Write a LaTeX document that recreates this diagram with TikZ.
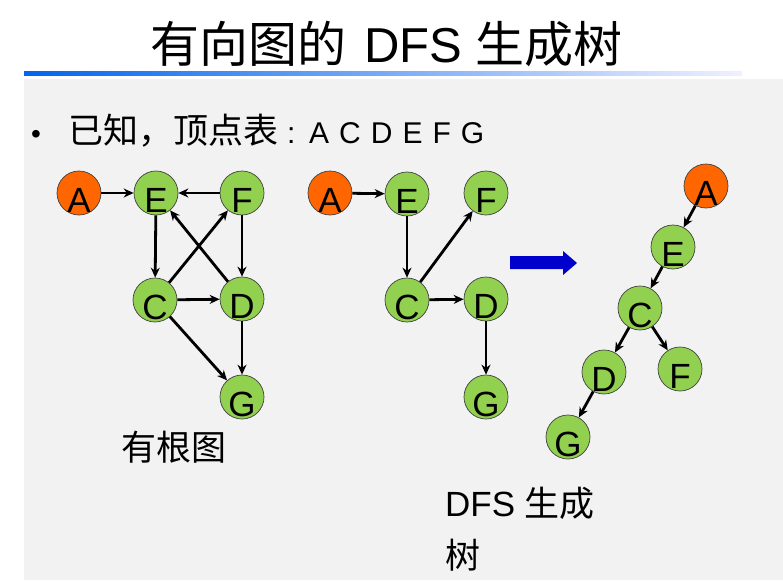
\documentclass[tikz,border=0pt]{standalone}
\usepackage{fontspec}
\setmainfont{Liberation Sans}
\newfontfamily\cjk{Noto Sans CJK SC}
\usetikzlibrary{arrows.meta}
\definecolor{panel}{HTML}{F2F2F2}
\definecolor{vgreen}{HTML}{92D050}
\definecolor{vorange}{HTML}{FF6600}
\definecolor{barblue}{HTML}{0066EE}
\definecolor{barend}{HTML}{F0F0FF}
\definecolor{bigarrow}{HTML}{0000CC}
\begin{document}
\begin{tikzpicture}[x=1pt,y=-1pt,
  vtx/.style={circle,draw=black!75,line width=0.7pt,minimum size=44pt,inner sep=0pt,fill=vgreen},
  root/.style={vtx,fill=vorange},
  lbl/.style={yshift=-7pt,font=\fontsize{35}{35}\selectfont,inner sep=0pt},
  arr/.style={-{Stealth[length=10pt,width=9pt]},line width=2.8pt,black},
  txt/.style={inner sep=0pt}]
\useasboundingbox (0,0) rectangle (783,583);
\fill[white] (0,0) rectangle (783,583);
\fill[panel] (24,79) rectangle (783,580);
\shade[left color=barblue,right color=barend] (24,72) rectangle (742,76);
% title
\node[txt] (title) at (386,44) {\fontsize{49}{49}\selectfont\cjk 有向图的\hspace{18pt}\fontspec{Liberation Sans}DFS\hspace{13pt}\cjk 生成树};
% bullet line
\node[txt,anchor=base west] (bul) at (31,143) {\fontsize{28}{28}\selectfont •};
\node[txt,anchor=base west] (known) at (68,143) {\fontsize{35}{35}\selectfont\cjk 已知，顶点表};
\node[txt,anchor=base west] (colon) at (287,143) {\fontsize{30}{30}\selectfont :};
\node[txt,anchor=base west] (list) at (309,143) {\fontsize{30}{30}\selectfont A\hspace{10pt}C\hspace{10pt}D\hspace{10pt}E\hspace{10pt}F\hspace{10pt}G};
% left graph
\node[root] (a1) at (79,193) {};
\node[vtx] (e1) at (156,193) {};
\node[vtx] (f1) at (242,193) {};
\node[vtx] (c1) at (155,300) {};
\node[vtx] (d1) at (242,299) {};
\node[vtx] (g1) at (242,397) {};
\draw[arr] (a1) -- (e1);
\draw[arr] (f1) -- (e1);
\draw[arr] (e1) -- (c1);
\draw[arr] (c1) -- (f1);
\draw[arr] (d1) -- (e1);
\draw[arr] (f1) -- (d1);
\draw[arr] (c1) -- (d1);
\draw[arr] (c1) -- (g1);
\draw[arr] (d1) -- (g1);
\node[lbl] (ta1) at (a1) {A};
\node[lbl] (te1) at (e1) {E};
\node[lbl] (tf1) at (f1) {F};
\node[lbl] (tc1) at (c1) {C};
\node[lbl] (td1) at (d1) {D};
\node[lbl] (tg1) at (g1) {G};
% middle graph
\node[root] (a2) at (330,193) {};
\node[vtx] (e2) at (407,194) {};
\node[vtx] (f2) at (486,193) {};
\node[vtx] (c2) at (407,300) {};
\node[vtx] (d2) at (486,299) {};
\node[vtx] (g2) at (486,397) {};
\draw[arr] (a2) -- (e2);
\draw[arr] (e2) -- (c2);
\draw[arr] (c2) -- (f2);
\draw[arr] (c2) -- (d2);
\draw[arr] (d2) -- (g2);
\node[lbl] (ta2) at (a2) {A};
\node[lbl] (te2) at (e2) {E};
\node[lbl] (tf2) at (f2) {F};
\node[lbl] (tc2) at (c2) {C};
\node[lbl] (td2) at (d2) {D};
\node[lbl] (tg2) at (g2) {G};
% big arrow
\fill[bigarrow] (510,256) -- (563,256) -- (563,251) -- (577,263) -- (563,275) -- (563,269) -- (510,269) -- cycle;
% tree
\node[root] (a3) at (706,186) {};
\node[vtx] (e3) at (673,247) {};
\node[vtx] (c3) at (640,308) {};
\node[vtx] (d3) at (604,372) {};
\node[vtx] (f3) at (680,369) {};
\node[vtx] (g3) at (568,437) {};
\draw[arr] (a3) -- (e3);
\draw[arr] (e3) -- (c3);
\draw[arr] (c3) -- (d3);
\draw[arr] (c3) -- (f3);
\draw[arr] (d3) -- (g3);
\node[lbl] (ta3) at (a3) {A};
\node[lbl] (te3) at (e3) {E};
\node[lbl] (tc3) at (c3) {C};
\node[lbl] (td3) at (d3) {D};
\node[lbl] (tf3) at (f3) {F};
\node[lbl] (tg3) at (g3) {G};
% captions
\node[txt] (cap1) at (174,447) {\fontsize{35}{35}\selectfont\cjk 有根图};
\node[txt,anchor=west] (cap2) at (445,503) {\fontsize{35}{35}\selectfont DFS\hspace{9pt}{\cjk 生成}};
\node[txt,anchor=west] (cap3) at (445,555) {\fontsize{35}{35}\selectfont\cjk 树};
\end{tikzpicture}
\end{document}
